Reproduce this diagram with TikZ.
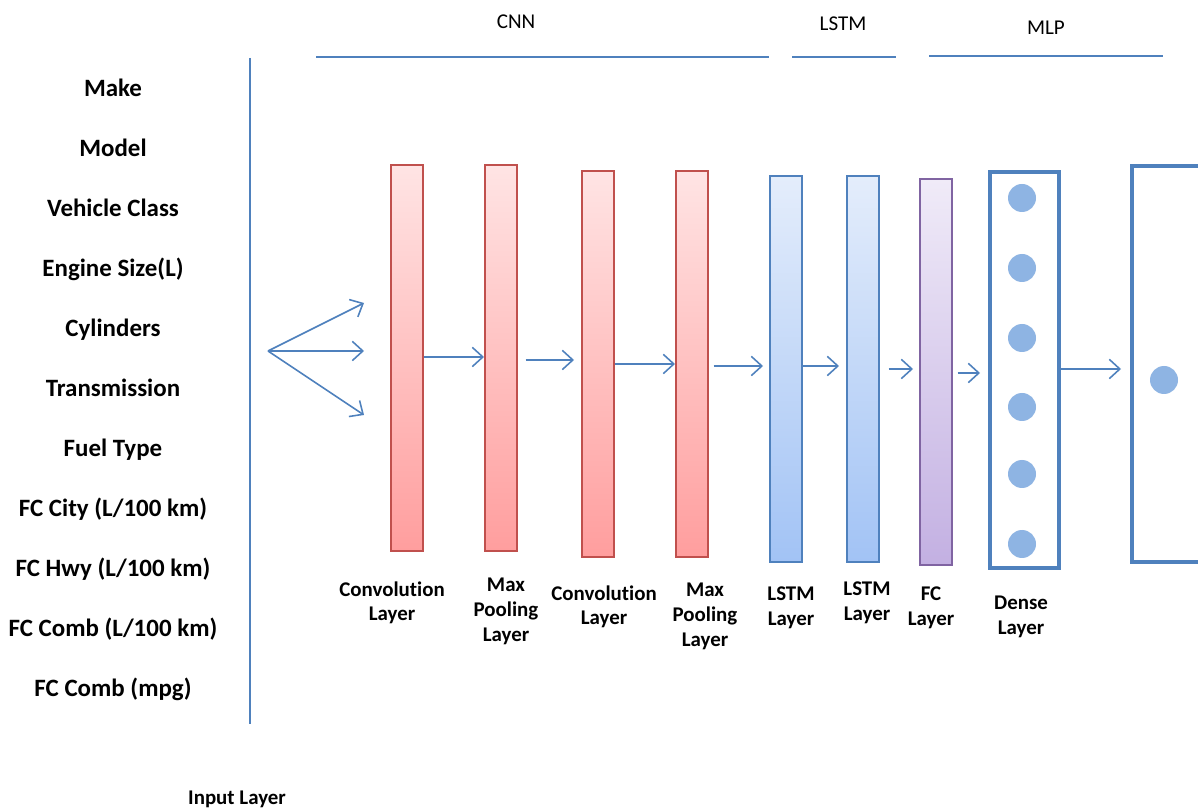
\documentclass[tikz,border=0pt]{standalone}
\usepackage{fontspec}
\setmainfont{Carlito}[Ligatures=NoCommon]
\usetikzlibrary{arrows.meta}
\definecolor{linkblue}{HTML}{4F81BD}
\definecolor{convred}{HTML}{C0504D}
\definecolor{convtop}{HTML}{FFE4E4}
\definecolor{convbot}{HTML}{FF9E9E}
\definecolor{lstmtop}{HTML}{E4EDFB}
\definecolor{lstmbot}{HTML}{A2C3F5}
\definecolor{fcline}{HTML}{8064A2}
\definecolor{fctop}{HTML}{F0EBF8}
\definecolor{fcbot}{HTML}{C3B0E2}
\definecolor{unitblue}{HTML}{8EB4E3}
\tikzstyle{feature}=[font=\fontsize{14.2}{16}\selectfont\bfseries,inner sep=0pt,anchor=base]
\tikzstyle{caption}=[font=\fontsize{11.9}{14.2}\selectfont\bfseries,align=center,inner sep=0pt,anchor=north]
\tikzstyle{group}=[font=\fontsize{12}{14}\selectfont,inner sep=0pt]
\tikzstyle{bar}=[line width=0.9pt,minimum width=0.64cm,minimum height=7.72cm,inner sep=0pt,anchor=north west]
\tikzstyle{conv bar}=[bar,draw=convred,top color=convtop,bottom color=convbot]
\tikzstyle{lstm bar}=[bar,draw=linkblue,top color=lstmtop,bottom color=lstmbot]
\tikzstyle{fc bar}=[bar,draw=fcline,top color=fctop,bottom color=fcbot]
\tikzstyle{layer box}=[draw=linkblue,line width=2.2pt,fill=white,minimum width=1.38cm,minimum height=7.92cm,inner sep=0pt,anchor=north west]
\tikzstyle{unit}=[circle,fill=unitblue,minimum size=0.56cm,inner sep=0pt]
\tikzstyle{edge}=[draw,linkblue,line width=0.9pt,-{Straight Barb[length=6pt,width=11pt]}]
\tikzstyle{rule}=[draw,linkblue,line width=0.9pt]

\begin{document}
\begin{tikzpicture}[x=0.02cm,y=-0.02cm]
	\useasboundingbox (0,0) rectangle (1198,810);

	% Input features on the left
	\foreach \i/\name in {0/Make, 1/Model, 2/Vehicle Class, 3/Engine Size(L), 4/Cylinders, 5/Transmission,
		6/Fuel Type, 7/{FC City (L/100 km)}, 8/{FC Hwy (L/100 km)}, 9/{FC Comb (L/100 km)}, 10/FC Comb (mpg)}
	\node[feature] (in\i) at (113,97+60*\i) {\name};
	\node[caption,anchor=center] (inlabel) at (237,799) {Input Layer};
	\path[rule] (250,58) -- (250,724);

	% Groups along the top
	\node[group] (cnn) at (516,22) {CNN};
	\node[group] (lstm) at (843,24) {LSTM};
	\node[group] (mlp) at (1046,28) {MLP};
	\path[rule] (316,57) -- (769,57);
	\path[rule] (792,57) -- (896,57);
	\path[rule] (929,56) -- (1163,56);

	% The layers
	\foreach \pos/\name in {{(390,164)/conv1}, {(484,164)/pool1}, {(581,170)/conv2}, {(675,170)/pool2}}
	\node[conv bar] (\name) at \pos {};
	\foreach \pos/\name in {{(769,175)/lstm1}, {(846,175)/lstm2}}
	\node[lstm bar] (\name) at \pos {};
	\node[fc bar] (fc) at (919,178) {};
	\node[layer box] (dense) at (988,170) {};
	\node[layer box] (out) at (1130,164) {};
	\foreach \y in {198,268,338,407,474,544}
	\node[unit] (d\y) at (1022,\y) {};
	\node[unit] (o1) at (1164,380) {};

	% Fan out from the input
	\coordinate (fan) at (268,351);
	\foreach \y in {303,351,415}
	{
		\coordinate (f\y) at (364,\y);
		\path[edge] (fan) -- (f\y);
	}

	% Connect the layers
	\foreach \source/\dest/\y/\ga/\gb in {conv1/pool1/357/0/0, pool1/conv2/360/8/7, conv2/pool2/364/0/0,
		pool2/lstm1/366/5/6, lstm1/lstm2/366/0/7, lstm2/fc/369/9/6, fc/dense/373/5/8, dense/out/369/0/9}
	\path[edge,shorten <=\ga*0.02cm,shorten >=\gb*0.02cm] (\source.east |- 0,\y) -- (\dest.west |- 0,\y);

	% Captions under the layers
	\node[caption] (c1) at (392,581) {Convolution\\Layer};
	\node[caption] (c2) at (506,578) {Max\\Pooling\\Layer};
	\node[caption] (c3) at (604,585) {Convolution\\Layer};
	\node[caption] (c4) at (705,583) {Max\\Pooling\\Layer};
	\node[caption] (c5) at (791,586) {LSTM\\Layer};
	\node[caption] (c6) at (867,581) {LSTM\\Layer};
	\node[caption] (c7) at (931,586) {FC\\Layer};
	\node[caption] (c8) at (1021,596) {Dense\\Layer};
\end{tikzpicture}
\end{document}
